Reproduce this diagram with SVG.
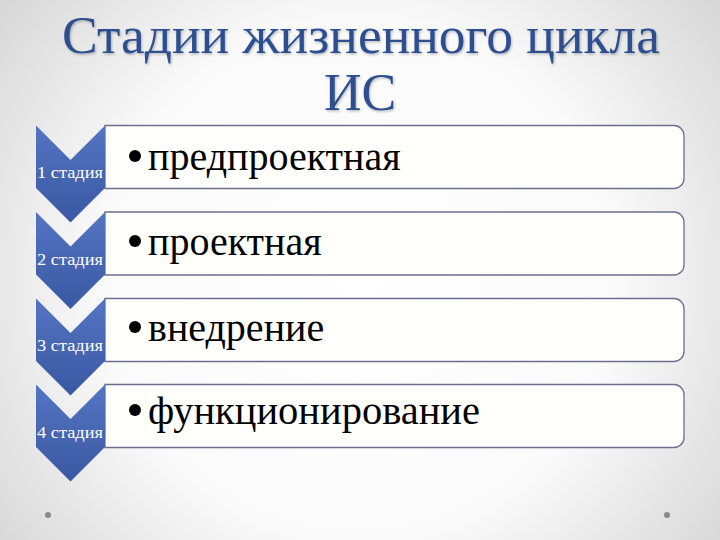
<svg xmlns="http://www.w3.org/2000/svg" width="720" height="540" viewBox="0 0 720 540">
  <defs>
    <radialGradient id="bg" cx="360" cy="280" r="470" gradientUnits="userSpaceOnUse">
      <stop offset="0" stop-color="#ffffff"/>
      <stop offset="0.55" stop-color="#fafafa"/>
      <stop offset="1" stop-color="#d4d4d4"/>
    </radialGradient>
    <linearGradient id="chev" x1="0" y1="0" x2="0" y2="1">
      <stop offset="0" stop-color="#5475c2"/>
      <stop offset="1" stop-color="#3a58a3"/>
    </linearGradient>
    <filter id="sh" x="-5%" y="-5%" width="110%" height="120%">
      <feDropShadow dx="1" dy="1.5" stdDeviation="1" flood-color="#000" flood-opacity="0.25"/>
    </filter>
  </defs>
  <style>
    .title { font-family: "Liberation Serif", serif; font-size: 52px; fill: #2f4f8f; }
    .chev { fill: url(#chev); }
    .box { fill: #fffffc; stroke: #6e6e8c; stroke-width: 1.3; }
    .lbl { font-family: "Liberation Serif", serif; font-size: 17px; fill: #ffffff; }
    .item { font-family: "Liberation Serif", serif; font-size: 40px; fill: #000000; }
    .bul { fill: #000000; }
    .dot { fill: #8a8a8a; }
  </style>
  <rect width="720" height="540" fill="url(#bg)"/>
  <g id="title" filter="url(#sh)">
    <text class="title" x="361" y="53" text-anchor="middle" textLength="598" lengthAdjust="spacingAndGlyphs">Стадии жизненного цикла</text>
    <text class="title" x="360" y="110" text-anchor="middle">ИС</text>
  </g>
  <g id="stage1">
    <path class="box" d="M105,125.5 H674 A10,10 0 0 1 684,135.5 V178.5 A10,10 0 0 1 674,188.5 H105 Z"/>
    <path class="chev" d="M36,125.5 L70.5,160 L105,125.5 V188 L70.5,222.5 L36,188 Z"/>
    <text class="lbl" x="70" y="178" text-anchor="middle" textLength="66" lengthAdjust="spacingAndGlyphs">1 стадия</text>
    <circle class="bul" cx="135" cy="156" r="6"/>
    <text class="item" x="148" y="170">предпроектная</text>
  </g>
  <g id="stage2">
    <path class="box" d="M105,212 H674 A10,10 0 0 1 684,222 V265 A10,10 0 0 1 674,275 H105 Z"/>
    <path class="chev" d="M36,212 L70.5,246.5 L105,212 V274.5 L70.5,309 L36,274.5 Z"/>
    <text class="lbl" x="70" y="265" text-anchor="middle" textLength="66" lengthAdjust="spacingAndGlyphs">2 стадия</text>
    <circle class="bul" cx="135" cy="241" r="6"/>
    <text class="item" x="148" y="255">проектная</text>
  </g>
  <g id="stage3">
    <path class="box" d="M105,298.5 H674 A10,10 0 0 1 684,308.5 V351.5 A10,10 0 0 1 674,361.5 H105 Z"/>
    <path class="chev" d="M36,298.5 L70.5,333 L105,298.5 V361 L70.5,395.5 L36,361 Z"/>
    <text class="lbl" x="70" y="351" text-anchor="middle" textLength="66" lengthAdjust="spacingAndGlyphs">3 стадия</text>
    <circle class="bul" cx="135" cy="327" r="6"/>
    <text class="item" x="148" y="341">внедрение</text>
  </g>
  <g id="stage4">
    <path class="box" d="M105,384.5 H674 A10,10 0 0 1 684,394.5 V437.5 A10,10 0 0 1 674,447.5 H105 Z"/>
    <path class="chev" d="M36,384.5 L70.5,419 L105,384.5 V447 L70.5,481.5 L36,447 Z"/>
    <text class="lbl" x="70" y="438" text-anchor="middle" textLength="66" lengthAdjust="spacingAndGlyphs">4 стадия</text>
    <circle class="bul" cx="135" cy="410" r="6"/>
    <text class="item" x="148" y="424" textLength="332" lengthAdjust="spacingAndGlyphs">функционирование</text>
  </g>
  <g id="dots">
    <circle class="dot" cx="48" cy="515" r="3"/>
    <circle class="dot" cx="667" cy="515" r="3"/>
  </g>
</svg>
